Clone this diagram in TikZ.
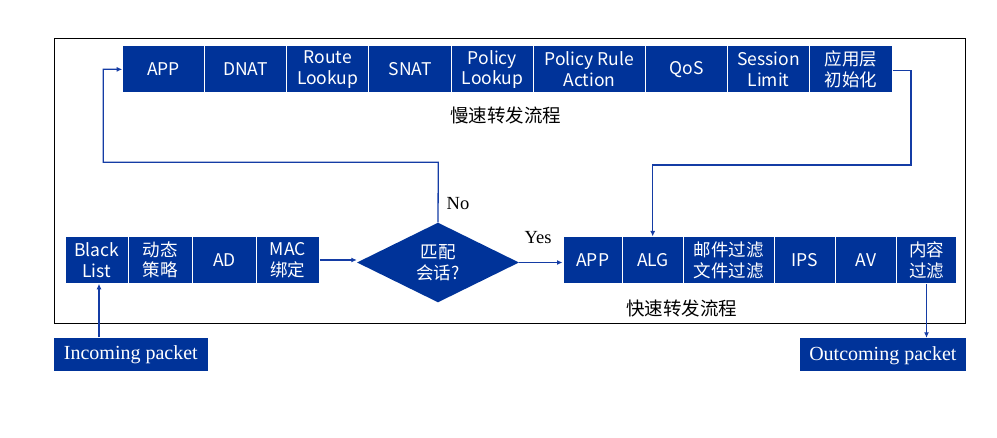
\documentclass[tikz,border=0pt]{standalone}
\usepackage{fontspec}
\setmainfont{Liberation Serif}
\newfontfamily\cjk{Noto Sans CJK SC}
\usetikzlibrary{shapes.geometric,arrows.meta}
\definecolor{hblue}{RGB}{0,51,153}
\definecolor{lblue}{RGB}{20,60,165}
\tikzset{
  blk/.style={fill=hblue, draw=white, line width=1pt, text=white, align=center, inner sep=0pt,
    font=\cjk\fontsize{17.5}{20.5}\selectfont},
  pkt/.style={fill=hblue, text=white, inner sep=0pt, text height=13pt, text depth=1.4pt,
    font=\fontsize{20}{22}\selectfont},
  conn/.style={draw=lblue, line width=1.3pt},
  arr/.style={conn, -{Latex[length=5.5pt,width=5pt]}},
  lbl/.style={font=\cjk\fontsize{18.5}{20}\selectfont, inner sep=0pt},
  yn/.style={font=\fontsize{18.5}{20}\selectfont, inner sep=0pt}
}
\newcommand{\bx}[6]{% name, left, right, top, bottom, text
  \node[blk, minimum width={(#3-#2)*1pt}, minimum height={(#5-#4)*1pt}] (#1) at ({(#2+#3)/2},{(#4+#5)/2}) {#6};}
\begin{document}
\begin{tikzpicture}[x=1pt,y=-1pt]
\useasboundingbox (0,0) rectangle (997,438);
\node[draw=black, line width=1pt, minimum width=911.4pt, minimum height=285pt, inner sep=0pt] (frame) at (510,180.8) {};
% slow path
\bx{sapp}{122.7}{204.5}{46}{92.7}{APP}
\bx{dnat}{204.5}{286.7}{46}{92.7}{DNAT}
\bx{route}{286.7}{368.8}{46}{92.7}{Route\\Lookup}
\bx{snat}{368.8}{451.5}{46}{92.7}{SNAT}
\bx{plook}{451.5}{533.5}{46}{92.7}{Policy\\Lookup}
\bx{prule}{533.5}{645.5}{46}{92.7}{Policy Rule\\Action}
\bx{qos}{645.5}{727.5}{46}{92.7}{QoS}
\bx{sess}{727.5}{809.5}{46}{92.7}{Session\\Limit}
\bx{init}{809.5}{892}{46}{92.7}{应用层\\初始化}
\node[lbl] (slowlbl) at (505.5,115.5) {慢速转发流程};
% pre-checks
\bx{bl}{65}{128.2}{236.7}{283.3}{Black\\List}
\bx{dyn}{128.2}{192.2}{236.7}{283.3}{动态\\策略}
\bx{ad}{192.2}{256.5}{236.7}{283.3}{AD}
\bx{mac}{256.5}{319.3}{236.7}{283.3}{MAC\\绑定}
% decision
\node[diamond, fill=hblue, text=white, inner sep=0pt, minimum width=162pt, minimum height=63pt,
  align=center, font=\cjk\fontsize{17.5}{21}\selectfont] (dia) at (438,262.5) {匹配\\会话?};
% fast path
\bx{fapp}{563}{622.5}{237}{283.5}{APP}
\bx{alg}{622.5}{683.3}{237}{283.5}{ALG}
\bx{mail}{683.3}{774.5}{237}{283.5}{邮件过滤\\文件过滤}
\bx{ips}{774.5}{835.5}{237}{283.5}{IPS}
\bx{av}{835.5}{896.5}{237}{283.5}{AV}
\bx{cont}{896.5}{956.7}{237}{283.5}{内容\\过滤}
\node[lbl] (fastlbl) at (681.5,308.5) {快速转发流程};
% packets
\node[pkt, minimum width=153.7pt, minimum height=33pt] (inc) at (130.85,354.2) {Incoming packet};
\node[pkt, minimum width=165.7pt, minimum height=33pt] (outc) at (882.85,354.5) {Outcoming packet};
% labels
\node[yn] (no) at (458,204) {No};
\node[yn] (yes) at (538,238) {Yes};
% connectors
\coordinate (c1) at (438.3,162.3);
\coordinate (c2) at (103.3,162.3);
\coordinate (c3) at (911,70.7);
\coordinate (c4) at (911,165);
\coordinate (c5) at (652.7,165);
\draw[arr] ([xshift=2.4pt]inc.north -| bl.south) -- ([xshift=2.4pt]bl.south);
\draw[arr] (mac.east) -- (mac.east -| dia.west);
\draw[arr] (dia.east) -- (dia.east -| fapp.west);
\draw[arr] (dia.north) -- (c1) -- (c2) -- (c2 |- sapp.west) -- (sapp.west);
\draw[arr] (init.east |- c3) -- (c3) -- (c4) -- (c5) -- (c5 |- alg.north);
\draw[arr] ([xshift=-0.1pt]cont.south) -- ([xshift=-0.1pt]cont.south |- outc.north);
\end{tikzpicture}
\end{document}
